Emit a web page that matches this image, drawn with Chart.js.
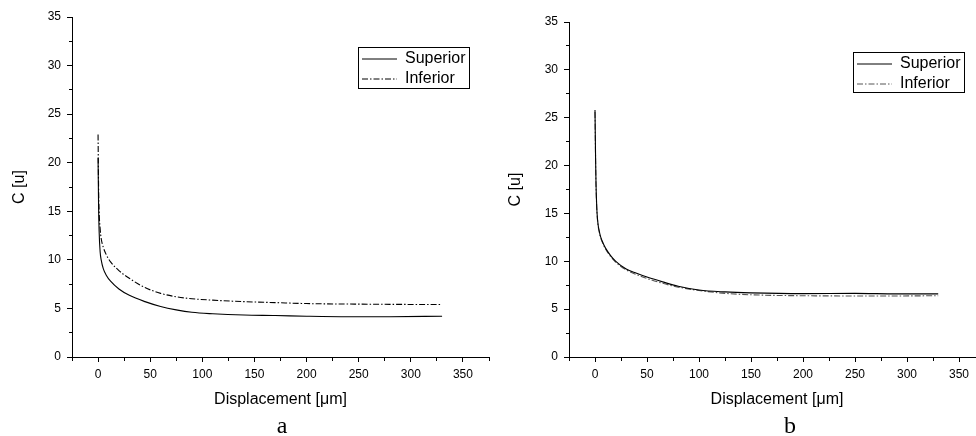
<!DOCTYPE html>
<html>
<head>
<meta charset="utf-8">
<script src="https://cdn.jsdelivr.net/npm/chart.js@4/dist/chart.umd.min.js"></script>
<style>
html,body{margin:0;padding:0;overflow:hidden;background:#fff;}
#wrap{position:relative;width:976px;height:436px;overflow:hidden;background:#fff;}
canvas{position:absolute;top:0;}
.cap{position:absolute;top:413px;font-family:"Liberation Serif","Times New Roman",serif;font-size:24px;line-height:24px;color:#000;transform:translateX(-50%);}
</style>
</head>
<body>
<div id="wrap">
<canvas id="ca" width="495" height="436" style="left:0;width:495px;height:436px"></canvas>
<canvas id="cb" width="500" height="436" style="left:490px;width:500px;height:436px"></canvas>
<div class="cap" style="left:282px">a</div>
<div class="cap" style="left:790px">b</div>
</div>
<script>
// ---- data ----
const seriesNames = ['Superior', 'Inferior'];
const xTitle = 'Displacement [\u03bcm]';
const yTitle = 'C [u]';

// panel a
const dispA = [0, 0.5, 1, 2, 3, 5, 8, 12, 20, 30, 45, 60, 75, 90, 110, 140, 170, 200, 240, 280, 330];
const supA  = [20.5, 15.5, 13.0, 10.8, 10.0, 9.1, 8.4, 7.8, 7.0, 6.35, 5.7, 5.2, 4.85, 4.6, 4.45, 4.32, 4.27, 4.2, 4.15, 4.15, 4.2];
const infA  = [22.9, 17.5, 15.0, 13.2, 12.2, 11.3, 10.5, 9.8, 8.9, 8.1, 7.15, 6.55, 6.2, 6.0, 5.85, 5.7, 5.6, 5.5, 5.45, 5.42, 5.4];

// panel b
const dispB = [0, 0.3, 0.6, 1, 1.5, 2, 3, 4, 5, 7, 10, 15, 20, 30, 40, 50, 65, 80, 100, 125, 150, 200, 250, 290, 330];
const supB  = [25.8, 23.0, 20.5, 18.0, 16.2, 15.0, 13.8, 13.2, 12.7, 12.1, 11.4, 10.6, 10.0, 9.2, 8.75, 8.35, 7.85, 7.4, 7.0, 6.8, 6.7, 6.62, 6.65, 6.6, 6.6];
const infB  = [25.6, 22.8, 20.3, 17.8, 16.0, 14.9, 13.7, 13.1, 12.6, 12.0, 11.3, 10.5, 9.9, 9.1, 8.6, 8.2, 7.7, 7.3, 6.95, 6.65, 6.5, 6.4, 6.38, 6.38, 6.4];

// axes
const xMin = -25, xMax = 375, xStep = 25, xMajor = 50;
const yMin = 0, yMax = 35, yStep = 2.5, yMajor = 5;

// ---- chart setup ----
const FONT = "'Liberation Sans', Arial, Helvetica, sans-serif";
Chart.defaults.font.family = FONT;
Chart.defaults.color = '#000';

const pts = (xs, ys) => xs.map((x, i) => ({x: x, y: ys[i]}));

const insideLegend = {
  id: 'insideLegend',
  afterLayout(chart, args, o) {
    const lg = chart.legend, ca = chart.chartArea;
    const x = ca.right - o.right - o.w;
    const y = ca.top + o.top;
    lg.left = x; lg.right = x + o.w; lg.width = o.w;
    lg.top = y; lg.bottom = y + o.h + 40; lg.height = o.h + 40;
    chart.$legBox = {x: x, y: y, w: o.w, h: o.h};
  },
  beforeDatasetsDraw(chart) {
    const b = chart.$legBox; if (!b) return;
    const c = chart.ctx;
    c.save();
    c.strokeStyle = '#000'; c.lineWidth = 1; c.setLineDash([]);
    c.strokeRect(Math.round(b.x) + 0.5, Math.round(b.y) + 0.5, b.w, b.h);
    c.restore();
  }
};

function makeChart(id, xs, sup, inf, lay) {
  const gen = Chart.defaults.plugins.legend.labels.generateLabels;
  return new Chart(document.getElementById(id), {
    type: 'line',
    data: {
      datasets: [
        {label: seriesNames[0], data: pts(xs, sup), borderColor: '#000', borderWidth: 1.1,
         pointRadius: 0, cubicInterpolationMode: 'monotone', fill: false},
        {label: seriesNames[1], data: pts(xs, inf), borderColor: lay.infColor, borderWidth: 1.1,
         borderDash: [6, 2, 1.5, 2], pointRadius: 0, cubicInterpolationMode: 'monotone', fill: false}
      ]
    },
    options: {
      responsive: false,
      animation: false,
      devicePixelRatio: 1,
      events: [],
      layout: {padding: {left: 0, right: lay.padRight, top: lay.padTop, bottom: 0}},
      plugins: {
        tooltip: {enabled: false},
        title: {display: false},
        insideLegend: lay.legend,
        legend: {
          display: true,
          position: 'chartArea',
          align: 'start',
          labels: {
            color: '#000',
            font: {family: FONT, size: 16},
            usePointStyle: true,
            pointStyle: 'line',
            pointStyleWidth: 35,
            padding: 4,
            generateLabels(chart) {
              return gen(chart).map((it) => {
                const ds = chart.data.datasets[it.datasetIndex];
                it.pointStyle = 'line';
                it.lineDash = ds.borderDash || [];
                it.lineWidth = 1;
                it.strokeStyle = ds.borderColor;
                return it;
              });
            }
          }
        }
      },
      scales: {
        x: {
          type: 'linear', min: xMin, max: xMax,
          afterFit(s) { s.height = 79; },
          ticks: {
            stepSize: xStep, includeBounds: false, autoSkip: false, maxRotation: 0, minRotation: 0,
            padding: 5, color: '#000', font: {family: FONT, size: 12},
            callback: (v) => (v % xMajor === 0 ? String(v) : '')
          },
          grid: {
            drawOnChartArea: false, drawTicks: true, tickLength: 5, tickColor: '#000', tickWidth: 1,
            tickBorderDash: (ctx) => (ctx.tick && ctx.tick.value % xMajor !== 0) ? [3, 100] : []
          },
          border: {display: true, color: '#000', width: 1},
          title: {display: true, text: xTitle, color: '#000', font: {family: FONT, size: 16},
                  padding: {top: 0, bottom: 27}}
        },
        y: {
          type: 'linear', min: yMin, max: yMax,
          afterFit(s) { s.width = lay.yWidth; },
          ticks: {
            stepSize: yStep, autoSkip: false, padding: 6, color: '#000', font: {family: FONT, size: 12},
            callback: (v) => (v % yMajor === 0 ? String(v) : '')
          },
          grid: {
            drawOnChartArea: false, drawTicks: true, tickLength: 5, tickColor: '#000', tickWidth: 1,
            tickBorderDash: (ctx) => (ctx.tick && ctx.tick.value % yMajor !== 0) ? [0, 2, 3, 100] : []
          },
          border: {display: true, color: '#000', width: 1},
          title: {display: true, text: yTitle, color: '#000', font: {family: FONT, size: 16},
                  padding: {top: lay.yTitlePad, bottom: 0}}
        }
      }
    },
    plugins: [insideLegend]
  });
}

makeChart('ca', dispA, supA, infA, {
  padRight: 6, padTop: 17, yWidth: 72, yTitlePad: 10, infColor: '#000',
  legend: {right: 20, top: 30, w: 111, h: 41}
});
makeChart('cb', dispB, supB, infB, {
  padRight: 5, padTop: 22, yWidth: 79, yTitlePad: 16, infColor: '#555',
  legend: {right: 21, top: 30, w: 111, h: 40}
});
</script>
</body>
</html>
